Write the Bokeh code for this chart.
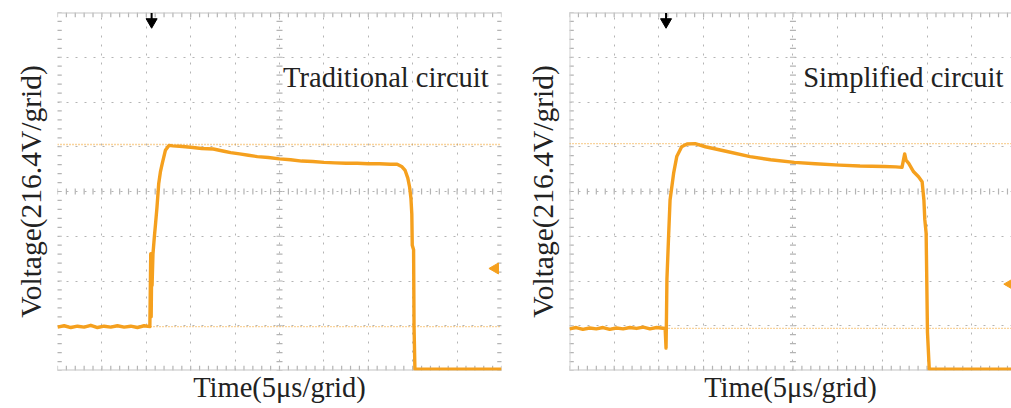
import numpy as np
from bokeh.plotting import figure
from bokeh.layouts import row
from bokeh.models import FixedTicker, Range1d
from bokeh.core.properties import value
from bokeh.embed import file_html
from bokeh.resources import INLINE

# ---------------- data (oscilloscope divisions: x 0-10, y 0-8) ----------------
trad_t = [0.00, 0.15, 0.30, 0.45, 0.60, 0.75, 0.90, 1.05, 1.20, 1.35, 1.50, 1.65, 1.80, 1.95, 2.08,
          2.10, 2.11, 2.12, 2.13, 2.15, 2.18, 2.21, 2.24, 2.28, 2.32, 2.36, 2.43, 2.51, 2.60, 2.75,
          3.00, 3.25, 3.51, 3.75, 3.90, 4.10, 4.30, 4.50, 4.75, 5.00, 5.25, 5.50, 5.75, 6.00, 6.25,
          6.50, 6.75, 7.00, 7.25, 7.50, 7.65, 7.75, 7.83, 7.89, 7.93, 7.96, 7.98, 7.99, 8.02, 8.03,
          8.05, 10.00]
trad_v = [0.97, 1.00, 0.96, 0.99, 0.97, 1.01, 0.96, 0.99, 0.97, 1.00, 0.97, 0.99, 0.96, 1.00, 0.98,
          2.61, 1.20, 2.17, 1.90, 2.60, 2.97, 3.30, 3.64, 4.18, 4.45, 4.63, 4.92, 5.03, 5.02, 5.01,
          4.99, 4.96, 4.95, 4.90, 4.87, 4.84, 4.81, 4.78, 4.76, 4.73, 4.71, 4.68, 4.67, 4.65, 4.64,
          4.63, 4.63, 4.62, 4.62, 4.61, 4.61, 4.56, 4.47, 4.30, 4.10, 3.85, 3.50, 2.80, 2.70, 1.00,
          0.03, 0.03]
trad_cursors = [5.05, 0.98]
trad_trigger = 2.12
trad_ground = 2.28

simp_t = [0.00, 0.15, 0.30, 0.45, 0.60, 0.75, 0.90, 1.05, 1.20, 1.35, 1.50, 1.65, 1.80, 1.95, 2.14,
          2.16, 2.17, 2.18, 2.22, 2.25, 2.33, 2.40, 2.51, 2.63, 2.81, 3.04, 3.50, 4.04, 4.50, 5.03,
          5.50, 6.04, 6.50, 7.04, 7.30, 7.44, 7.50, 7.53, 7.59, 7.70, 7.81, 7.89, 7.93, 7.95, 7.98,
          8.01, 8.05, 9.89]
simp_v = [0.93, 0.96, 0.92, 0.95, 0.93, 0.96, 0.92, 0.95, 0.93, 0.96, 0.94, 0.97, 0.93, 0.96, 0.94,
          0.50, 1.20, 2.04, 3.07, 3.81, 4.41, 4.78, 5.00, 5.06, 5.07, 5.00, 4.90, 4.78, 4.71, 4.65,
          4.62, 4.59, 4.57, 4.56, 4.55, 4.54, 4.84, 4.70, 4.63, 4.44, 4.33, 4.22, 3.81, 3.37, 3.07,
          0.85, 0.03, 0.03]
simp_cursors = [5.07, 0.94]
simp_trigger = 2.16
simp_ground = 1.93

titles = ["Traditional circuit", "Simplified circuit"]
x_label = "Time(5μs/grid)"
y_label = "Voltage(216.4V/grid)"

TRACE = "#F5A01E"
CURSOR = "#F3A93A"
GRID = "#b4b4b4"
SERIF = "Liberation Serif"


def make_panel(t, v, cursors, trigger, ground, title, width, xmax, border_left, border_right,
               left_edge_line):
    p = figure(width=width, height=408, output_backend="svg", toolbar_location=None,
               x_range=Range1d(0, xmax), y_range=Range1d(0, 8),
               min_border_left=border_left, min_border_right=border_right,
               min_border_top=12, min_border_bottom=38)
    p.outline_line_color = None
    p.background_fill_color = "white"
    p.border_fill_color = "white"

    for ax, lab, fs in ((p.xaxis[0], x_label, "28.5px"), (p.yaxis[0], y_label, "29.5px")):
        ax.ticker = FixedTicker(ticks=[])
        ax.axis_line_color = None
        ax.major_tick_line_color = None
        ax.minor_tick_line_color = None
        ax.major_tick_out = 0
        ax.major_tick_in = 0
        ax.axis_label = lab
        ax.axis_label_text_font = SERIF
        ax.axis_label_text_font_size = fs
        ax.axis_label_text_font_style = "normal"
        ax.axis_label_text_color = "#222222"
    p.xaxis[0].axis_label_standoff = 1
    p.yaxis[0].axis_label_standoff = 11

    # dotted division grid
    p.xgrid.ticker = FixedTicker(ticks=list(range(1, 10)))
    p.ygrid.ticker = FixedTicker(ticks=list(range(1, 8)))
    for g in (p.xgrid[0], p.ygrid[0]):
        g.grid_line_color = GRID
        g.grid_line_dash = "2 7"
        g.grid_line_width = 1

    # center cross tick marks and border ticks (decoration)
    sub_x = np.arange(0, 10.01, 0.2)
    sub_y = np.arange(0, 8.01, 0.2)
    p.scatter(sub_x, np.full(len(sub_x), 4.0), marker="dash", angle=np.pi / 2, size=6,
              line_color=GRID, line_width=1.2)
    p.scatter(np.full(len(sub_y), 5.0), sub_y, marker="dash", size=6,
              line_color=GRID, line_width=1.2)
    p.scatter(sub_x, np.full(len(sub_x), 0.05), marker="dash", angle=np.pi / 2, size=5,
              line_color=GRID, line_width=1.2)
    p.scatter(sub_x, np.full(len(sub_x), 7.95), marker="dash", angle=np.pi / 2, size=5,
              line_color=GRID, line_width=1.2)
    p.scatter(np.full(len(sub_y), 0.04), sub_y, marker="dash", size=5,
              line_color=GRID, line_width=1.2)
    p.scatter(np.full(len(sub_y), 9.96), sub_y, marker="dash", size=5,
              line_color=GRID, line_width=1.2)
    p.segment(x0=[0, 0], y0=[0, 8], x1=[10, 10], y1=[0, 8], line_color="#c4c4c4", line_width=2)
    if left_edge_line:
        p.segment(x0=0, y0=0, x1=0, y1=8, line_color="#d0d0d0", line_width=2)

    # cursors
    for c in cursors:
        p.segment(x0=0, y0=c, x1=10, y1=c, line_color=CURSOR, line_width=1.3, line_dash="1 2")

    # trace
    p.line(t, v, line_color=TRACE, line_width=3.4, line_join="round")

    # trigger marker (top) and ground marker (right)
    p.segment(x0=trigger, y0=7.99, x1=trigger, y1=7.8, line_color="black", line_width=2)
    p.scatter([trigger], [7.79], marker="inverted_triangle", size=11, fill_color="black",
              line_color="black")
    p.scatter([9.86], [ground], marker="triangle", angle=np.pi / 2, size=11,
              fill_color=TRACE, line_color=TRACE)

    p.text(x=[9.71], y=[6.55], text=[title], text_font=value(SERIF), text_font_size="28.5px",
           text_align="right", text_baseline="middle", text_color="#222222")
    return p


p1 = make_panel(trad_t, trad_v, trad_cursors, trad_trigger, trad_ground, titles[0],
                width=510, xmax=10, border_left=57, border_right=9, left_edge_line=False)
p2 = make_panel(simp_t, simp_v, simp_cursors, simp_trigger, simp_ground, titles[1],
                width=501, xmax=9.89, border_left=59, border_right=0, left_edge_line=True)

layout = row(p1, p2)
open("out.html", "w").write(file_html(layout, INLINE))
